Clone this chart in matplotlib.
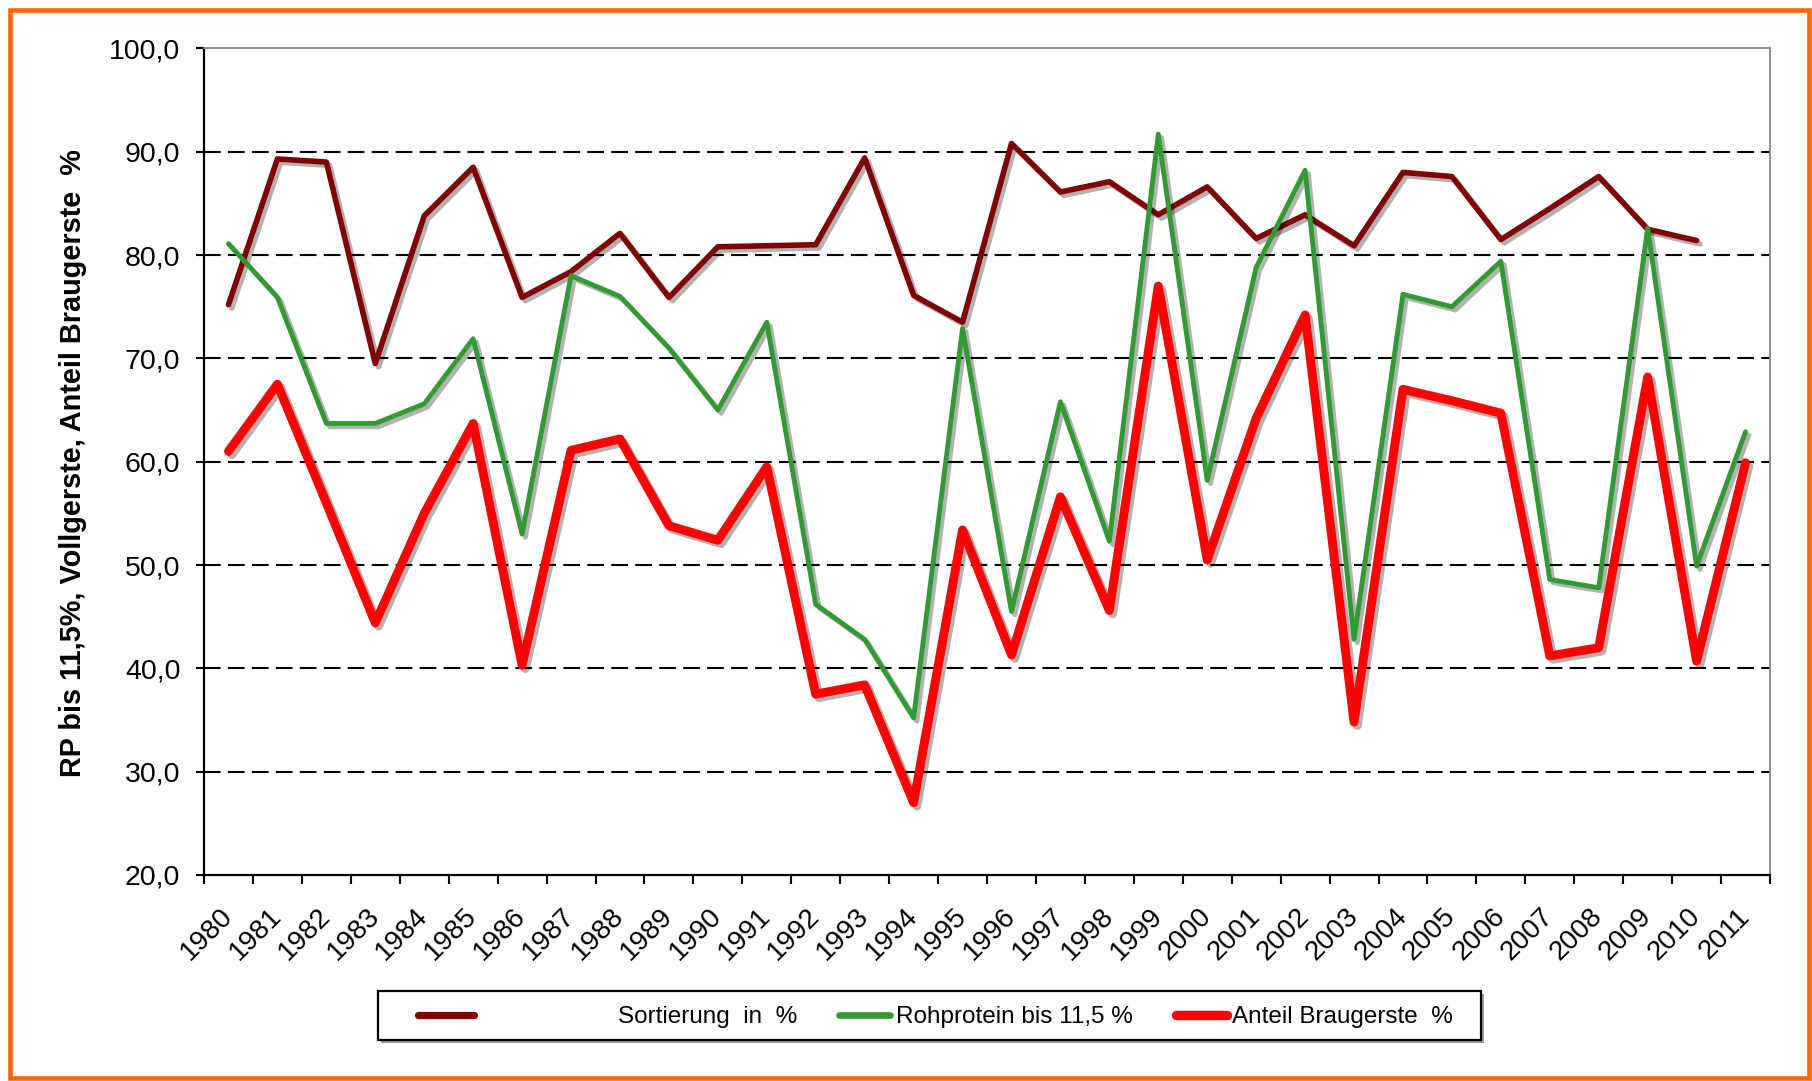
import matplotlib
matplotlib.use('Agg')
import matplotlib.pyplot as plt
import matplotlib.patheffects as pe
from matplotlib.patches import Rectangle
from matplotlib.lines import Line2D
from matplotlib.ticker import FixedLocator, FuncFormatter

plt.rcParams['font.family'] = ['Liberation Sans', 'DejaVu Sans']

# ---------------- data ----------------
years = [str(y) for y in range(1980, 2012)]

sortierung = [75.2, 89.3, 89.0, 69.5, 83.8, 88.5, 75.9, 78.4, 82.1, 75.9,
              80.8, 80.9, 81.0, 89.4, 76.1, 73.5, 90.8, 86.1, 87.1, 83.9,
              86.6, 81.6, 83.9, 80.9, 88.0, 87.6, 81.5, 84.5, 87.6, 82.5,
              81.4]

rohprotein = [81.1, 75.9, 63.7, 63.7, 65.6, 71.9, 53.0, 78.0, 76.0, 71.0,
              65.0, 73.5, 46.2, 42.8, 35.2, 72.9, 45.5, 65.8, 52.3, 91.7,
              58.2, 78.8, 88.2, 42.8, 76.2, 75.0, 79.4, 48.6, 47.8, 82.6,
              49.9, 62.9]

braugerste = [61.0, 67.5, 56.0, 44.4, 55.0, 63.7, 40.3, 61.1, 62.2, 53.8,
              52.4, 59.5, 37.5, 38.4, 27.0, 53.4, 41.3, 56.6, 45.6, 77.0,
              50.5, 64.2, 74.2, 34.8, 67.0, 65.9, 64.7, 41.2, 42.0, 68.2,
              40.7, 59.9]

series_labels = ['Sortierung  in  %', 'Rohprotein bis 11,5 %', 'Anteil Braugerste  %']
y_label = 'RP bis 11,5%, Vollgerste, Anteil Braugerste  %'
y_ticks = [20, 30, 40, 50, 60, 70, 80, 90, 100]

# ---------------- styling ----------------
C_SORT = '#800000'
C_ROH = '#339933'
C_BRAU = '#FF0000'
C_BORDER = '#FF6600'

W, H = 1812, 1081
fig = plt.figure(figsize=(W / 100, H / 100), dpi=100)
fig.patch.set_facecolor('white')


def fx(px):
    return px / W


def fy(py):
    return 1 - py / H


ax = fig.add_axes([fx(204), fy(875), fx(1770) - fx(204), fy(48.4) - fy(875)])

xs_sort = list(range(len(sortierung)))
xs_all = list(range(len(years)))

shadow = [pe.SimpleLineShadow(offset=(2.4, -2.4), shadow_color='black', alpha=0.3),
          pe.Normal()]

ax.plot(xs_sort, sortierung, color=C_SORT, lw=4.0, solid_joinstyle='round',
        solid_capstyle='round', path_effects=shadow, zorder=3)
ax.plot(xs_all, rohprotein, color=C_ROH, lw=3.5, solid_joinstyle='round',
        solid_capstyle='round', path_effects=shadow, zorder=4)
ax.plot(xs_all, braugerste, color=C_BRAU, lw=6.4, solid_joinstyle='round',
        solid_capstyle='round', path_effects=shadow, zorder=5)

ax.set_xlim(-0.5, len(years) - 0.5)
ax.set_ylim(y_ticks[0], y_ticks[-1])

# gridlines
for v in y_ticks[1:-1]:
    ax.axhline(v, color='black', lw=1.5, linestyle=(0, (8, 3.5)), zorder=1)

# spines
for s in ['left', 'bottom']:
    ax.spines[s].set_color('black')
    ax.spines[s].set_linewidth(1.6)
for s in ['top', 'right']:
    ax.spines[s].set_color('#888888')
    ax.spines[s].set_linewidth(1.3)

# y ticks
ax.yaxis.set_major_locator(FixedLocator(y_ticks))
ax.yaxis.set_major_formatter(FuncFormatter(lambda v, p: f'{v:.1f}'.replace('.', ',')))
ax.tick_params(axis='y', direction='out', length=6, width=1.5, pad=11,
               labelsize=20.5, colors='black')

# x ticks: labels at category centres, marks at boundaries
ax.xaxis.set_major_locator(FixedLocator(xs_all))
ax.set_xticklabels(years)
ax.xaxis.set_minor_locator(FixedLocator([i - 0.5 for i in range(len(years) + 1)]))
ax.tick_params(axis='x', which='major', length=0, pad=27, labelsize=20)
ax.tick_params(axis='x', which='minor', direction='out', length=6.5, width=1.5)
for lab in ax.get_xticklabels():
    lab.set_rotation(45)
    lab.set_ha('right')
    lab.set_va('center')
    lab.set_rotation_mode('anchor')

# y label
fig.text(fx(73), fy(463), y_label, rotation=90, ha='center', va='center',
         fontsize=20.8, fontweight='bold')

# ---------------- legend (manual, Excel-like) ----------------
lx0, ly0, lx1, ly1 = 378, 991, 1481, 1040
fig.patches.append(Rectangle((fx(lx0 + 3), fy(ly1 + 3)), fx(lx1) - fx(lx0), fy(ly0) - fy(ly1),
                             transform=fig.transFigure, facecolor='#999999',
                             edgecolor='none', zorder=1))
fig.patches.append(Rectangle((fx(lx0), fy(ly1)), fx(lx1) - fx(lx0), fy(ly0) - fy(ly1),
                             transform=fig.transFigure, facecolor='white',
                             edgecolor='black', lw=1.6, zorder=2))
ly = 1015
legend_items = [
    (C_SORT, 5.2, 418, 474, 618, series_labels[0]),
    (C_ROH, 4.8, 839, 890, 896, series_labels[1]),
    (C_BRAU, 6.8, 1176, 1227, 1232, series_labels[2]),
]
for col, lw, x0, x1, tx, txt in legend_items:
    fig.add_artist(Line2D([fx(x0), fx(x1)], [fy(ly), fy(ly)], transform=fig.transFigure,
                          color=col, lw=lw, solid_capstyle='round', zorder=3))
    fig.text(fx(tx), fy(ly + 2), txt, ha='left', va='center', fontsize=17.5, zorder=3)

# orange outer border
fig.patches.append(Rectangle((fx(10), fy(1078)), fx(1809) - fx(10), fy(10) - fy(1078),
                             transform=fig.transFigure, fill=False,
                             edgecolor=C_BORDER, lw=3.3, zorder=10))

fig.savefig('out.png', dpi=100, facecolor='white')
